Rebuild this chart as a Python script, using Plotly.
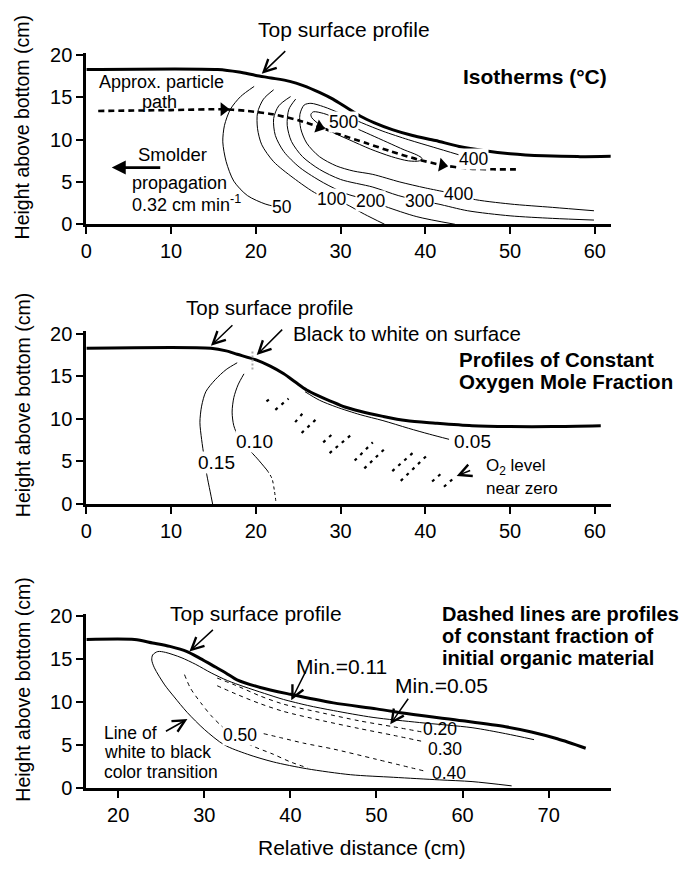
import plotly.graph_objects as go

FONT = "Liberation Sans, Arial, Helvetica, sans-serif"

# ---------------- Panel 1: isotherms ----------------
surf1_x = [0, 15.5, 18, 20, 21.8, 24, 25.6, 27.5, 29.1, 30.7, 32.3, 34, 36.1, 38.5, 41.2, 44, 47, 50, 54, 58, 62]
surf1_y = [18.3, 18.3, 18.0, 17.6, 17.3, 16.9, 16.4, 15.6, 14.8, 13.8, 12.8, 12.0, 11.2, 10.5, 9.9, 9.2, 8.7, 8.35, 8.1, 8.0, 8.05]

path_x = [1.4, 10, 16, 19, 22, 25, 27.5, 30, 33, 36, 39, 42, 45, 48, 51]
path_y = [13.4, 13.5, 13.6, 13.4, 13.0, 12.3, 11.5, 10.6, 9.6, 8.6, 7.7, 7.0, 6.6, 6.5, 6.5]
path_arrow_x = [16.2, 27.5, 42.0]
path_arrow_y = [13.6, 11.5, 7.0]

iso50_x = [19.8, 18.2, 17.0, 16.3, 16.1, 16.5, 17.4, 19.0, 21.1, 22.3]
iso50_y = [16.3, 15.1, 13.6, 11.7, 9.75, 7.4, 5.1, 3.4, 2.4, 2.1]
iso100_x = [22.1, 20.9, 20.2, 20.2, 20.7, 22.1, 24.4, 27.2, 29.0, 30.6, 32.8, 35.2]
iso100_y = [15.9, 14.8, 13.2, 11.3, 9.4, 7.4, 5.5, 3.6, 3.0, 2.4, 1.2, 0.0]
iso200_x = [24.1, 22.7, 22.1, 22.3, 23.3, 25.2, 28.0, 30.7, 33.5, 35.3, 39.0, 43.5]
iso200_y = [15.1, 14.0, 12.5, 10.5, 8.6, 6.7, 4.9, 3.6, 2.8, 2.1, 0.9, 0.0]
iso300_x = [24.7, 23.9, 23.7, 24.2, 25.5, 27.5, 30.0, 33.8, 36.8, 39.3, 41.5, 45, 50, 55, 59.9]
iso300_y = [14.8, 13.6, 11.7, 9.8, 8.0, 6.5, 5.3, 4.4, 3.4, 2.8, 2.4, 1.6, 1.0, 0.7, 0.5]
iso400_x = [44.0, 41.0, 38.0, 35.0, 32.5, 30.0, 28.0, 26.5, 25.7, 25.2, 25.3, 26.0, 27.5, 29.5, 31.5, 33.8, 37, 40, 42.5, 43.9, 45.5, 50, 55, 59.9]
iso400_y = [8.2, 9.1, 10.0, 11.0, 12.0, 13.1, 13.9, 14.3, 14.1, 13.0, 11.3, 9.6, 8.0, 6.9, 6.3, 5.9, 5.0, 4.3, 3.8, 3.6, 3.0, 2.4, 2.0, 1.6]
iso500_x = [26.8, 28.0, 29.3, 31.5, 33.5, 35.5, 37.5, 39.0, 39.6, 39.3, 38.0, 36.0, 33.5, 31.0, 29.0, 27.5, 26.6, 26.5, 26.8]
iso500_y = [13.3, 13.1, 12.6, 11.5, 10.6, 9.7, 8.8, 8.2, 7.8, 7.5, 7.5, 8.0, 8.9, 10.0, 10.9, 11.8, 12.6, 13.0, 13.3]

iso_labels = ["50", "100", "200", "300", "400", "400", "500"]
iso_label_x = [23.1, 28.9, 33.5, 39.3, 43.9, 45.7, 30.4]
iso_label_y = [2.1, 3.0, 2.8, 2.8, 3.6, 7.7, 12.1]

# ---------------- Panel 2: oxygen ----------------
surf2_x = [0, 14.7, 16.5, 17.8, 20.1, 21.7, 23.3, 24.7, 26.0, 27.4, 28.8, 30.5, 32.3, 35, 37.7, 41.2, 45.5, 50, 55, 60.7]
surf2_y = [18.3, 18.3, 18.0, 17.6, 16.9, 16.2, 15.3, 14.3, 13.4, 12.7, 12.1, 11.4, 10.9, 10.3, 9.8, 9.5, 9.2, 9.1, 9.1, 9.2]

o15_x = [17.8, 16.5, 15.2, 14.1, 13.6, 13.4, 13.6, 13.9, 14.2, 14.6, 14.9]
o15_y = [16.6, 15.8, 14.6, 13.2, 11.5, 9.6, 7.6, 5.5, 3.5, 1.5, 0.0]
o10_x = [18.6, 17.9, 17.4, 17.2, 17.4, 18.0, 19.0, 20.2, 21.3]
o10_y = [15.3, 14.0, 12.5, 10.8, 9.2, 7.8, 6.6, 5.3, 4.0]
o10_dash_x = [21.3, 21.9, 22.2, 22.4]
o10_dash_y = [4.0, 3.0, 1.5, 0.0]
o05_x = [25.8, 27.5, 29.5, 32.3, 35, 38, 40.5, 42.8]
o05_y = [13.2, 12.2, 11.4, 10.5, 9.8, 8.9, 8.2, 7.6]

o2_labels = ["0.15", "0.10", "0.05"]
o2_label_x = [15.3, 19.9, 45.6]
o2_label_y = [4.9, 7.4, 7.4]

o2_zero_x0 = [21.25, 22.3, 24.64, 25.4, 27.95, 28.7, 31.66, 32.8, 36.1, 37.1, 40.8, 42.2]
o2_zero_y0 = [12.07, 11.07, 9.62, 8.35, 7.24, 5.98, 5.1, 4.18, 3.87, 2.72, 2.64, 2.03]
o2_zero_x1 = [21.7, 23.86, 25.8, 27.45, 29.3, 31.5, 33.8, 35.36, 38.5, 40.2, 42.2, 43.35]
o2_zero_y1 = [12.38, 12.38, 10.96, 10.27, 8.47, 8.35, 7.24, 6.63, 5.98, 5.71, 3.87, 3.03]

gray_mark_x = [19.6, 19.6]
gray_mark_y = [15.8, 18.1]

# ---------------- Panel 3: organic material ----------------
surf3_x = [16.3, 21.9, 24, 26, 28, 29.5, 31.1, 32.5, 33.8, 36.5, 40, 45, 50, 54.5, 60, 65, 68, 71, 74.3]
surf3_y = [17.3, 17.3, 16.9, 16.5, 15.9, 15.1, 14.2, 13.4, 12.6, 11.7, 10.9, 9.9, 9.2, 8.5, 7.8, 7.1, 6.5, 5.7, 4.6]

wb_x = [68.3, 65, 61.1, 55, 49.6, 45, 42, 39.2, 37, 34.6, 32.7, 30.8, 29, 27.3, 25.5, 24.6, 24.0, 23.9, 24.2, 25.4, 26.5, 28.0, 30, 32.3, 35, 38, 41.9, 47, 52, 57.3, 61.1, 65.7]
wb_y = [5.6, 6.3, 7.0, 7.6, 8.2, 9.0, 9.6, 10.3, 11.0, 11.8, 12.5, 13.4, 14.4, 15.2, 15.8, 15.9, 15.5, 14.9, 14.0, 12.0, 10.6, 8.8, 6.8, 5.0, 3.9, 3.0, 2.2, 1.5, 1.2, 0.9, 0.7, 0.2]

d20_x = [31.5, 34, 36.5, 39.2, 43.8, 48, 52, 55.3]
d20_y = [12.8, 11.8, 10.7, 9.75, 8.7, 7.8, 7.1, 6.5]
d30_x = [31.5, 34, 36.5, 39.2, 43.8, 48, 52, 55.3]
d30_y = [11.9, 10.8, 9.8, 8.9, 7.8, 6.9, 6.1, 5.4]
d50_x = [27.7, 28.4, 29.6, 30.8, 32.0, 33.5, 35.5, 38, 40, 42]
d50_y = [13.2, 11.6, 9.9, 8.4, 7.2, 6.0, 4.9, 3.9, 3.0, 2.3]
d40_x = [36.9, 39, 41.5, 45, 50, 55.7]
d40_y = [6.3, 5.8, 5.2, 4.5, 3.3, 1.9]

org_labels = ["0.50", "0.20", "0.30", "0.40"]
org_label_x = [34.2, 57.4, 57.9, 58.4]
org_label_y = [6.2, 6.8, 4.5, 1.7]

x12_ticks = [0, 10, 20, 30, 40, 50, 60]
x3_ticks = [20, 30, 40, 50, 60, 70]
y_ticks = [0, 5, 10, 15, 20]

# ---------------- figure ----------------
# The page body keeps the browser's 8 px margin, so the figure is sized to fit
# the 693x876 window exactly; all reference pixel positions are shifted by 8 px.
FW, FH, OFF = 677, 860, 8


def px(xp):
    return (xp - OFF) / FW


def py(yp):
    return 1 - (yp - OFF) / FH


fig = go.Figure()


def add_line(x, y, xa, ya, width=1.0, dash="solid", color="black", smooth=True):
    fig.add_trace(go.Scatter(
        x=x, y=y, mode="lines", xaxis=xa, yaxis=ya,
        line=dict(color=color, width=width, dash=dash,
                  shape="spline" if smooth else "linear", smoothing=0.8),
        showlegend=False, hoverinfo="skip"))


# panel 1
add_line(surf1_x, surf1_y, "x", "y", width=3)
for xs, ys in [(iso50_x, iso50_y), (iso100_x, iso100_y), (iso200_x, iso200_y),
               (iso300_x, iso300_y), (iso400_x, iso400_y), (iso500_x, iso500_y)]:
    add_line(xs, ys, "x", "y", width=1)
add_line(path_x, path_y, "x", "y", width=2.6, dash="6px,4px")
fig.add_trace(go.Scatter(
    x=path_arrow_x, y=path_arrow_y, mode="markers", xaxis="x", yaxis="y",
    marker=dict(symbol="triangle-right", size=12, color="black", angle=[0, 19, 10]),
    showlegend=False, hoverinfo="skip"))

# panel 2
add_line(surf2_x, surf2_y, "x2", "y2", width=3)
add_line(o15_x, o15_y, "x2", "y2", width=1)
add_line(o10_x, o10_y, "x2", "y2", width=1)
add_line(o10_dash_x, o10_dash_y, "x2", "y2", width=1, dash="3px,3px")
add_line(o05_x, o05_y, "x2", "y2", width=1)
seg_x, seg_y = [], []
for a, b, c, d in zip(o2_zero_x0, o2_zero_y0, o2_zero_x1, o2_zero_y1):
    seg_x += [a, c, None]
    seg_y += [b, d, None]
add_line(seg_x, seg_y, "x2", "y2", width=2.2, dash="3px,5px", smooth=False)
add_line(gray_mark_x, gray_mark_y, "x2", "y2", width=2, dash="2px,2px", color="#aaaaaa", smooth=False)

# panel 3
add_line(surf3_x, surf3_y, "x3", "y3", width=3)
add_line(wb_x, wb_y, "x3", "y3", width=1)
for xs, ys in [(d20_x, d20_y), (d30_x, d30_y), (d50_x, d50_y), (d40_x, d40_y)]:
    add_line(xs, ys, "x3", "y3", width=1, dash="4px,4px")

XDOM = [px(81), px(610)]
axis_common = dict(showgrid=False, zeroline=False, showline=True, linewidth=3, linecolor="black",
                   ticks="outside", ticklen=7, tickwidth=1.5, tickcolor="black",
                   tickfont=dict(family=FONT, size=20, color="black"))

fig.update_layout(
    width=FW, height=FH, autosize=False,
    margin=dict(l=0, r=0, t=0, b=0),
    paper_bgcolor="white", plot_bgcolor="white",
    font=dict(family=FONT, size=20, color="black"),
    xaxis=dict(domain=XDOM, range=[0, 61.87], anchor="y", tickvals=x12_ticks, **axis_common),
    yaxis=dict(domain=[py(221), py(45.4)], range=[0, 20.3], anchor="x", tickvals=y_ticks, **axis_common),
    xaxis2=dict(domain=XDOM, range=[0, 61.87], anchor="y2", tickvals=x12_ticks, **axis_common),
    yaxis2=dict(domain=[py(507), py(330.4)], range=[0, 20.3], anchor="x2", tickvals=y_ticks, **axis_common),
    xaxis3=dict(domain=XDOM, range=[16.3, 77.2], anchor="y3", tickvals=x3_ticks, **axis_common),
    yaxis3=dict(domain=[py(797), py(619.4)], range=[0, 20.3], anchor="x3", tickvals=y_ticks, **axis_common),
)

ann = []


def text(t, x, y, xr, yr, size=18, xanchor="center", bg=None):
    d = dict(text=t, x=x, y=y, xref=xr, yref=yr, showarrow=False, xanchor=xanchor, yanchor="middle",
             font=dict(family=FONT, size=size, color="black"))
    if bg:
        d.update(bgcolor=bg, borderpad=0)
    ann.append(d)


def arrow(x, y, ax, ay, xr, yr, head=5, width=1.5, size=1.6):
    ann.append(dict(text="", x=x, y=y, xref=xr, yref=yr, ax=ax, ay=ay, showarrow=True,
                    arrowhead=head, arrowwidth=width, arrowsize=size, arrowcolor="black", standoff=0))


# axis titles
for yc in [122, 406, 697]:
    ann.append(dict(text="Height above bottom (cm)", x=px(17), y=py(yc), xref="paper", yref="paper",
                    showarrow=False, textangle=-90, xanchor="center", yanchor="middle",
                    font=dict(family=FONT, size=19.5, color="black")))
ann.append(dict(text="Relative distance (cm)", x=px(359), y=py(858), xref="paper", yref="paper",
                showarrow=False, xanchor="center", yanchor="middle", font=dict(family=FONT, size=21, color="black")))

# panel 1 texts
text("Top surface profile", px(341), py(22), "paper", "paper", size=21)
arrow(20.7, 17.8, 25, -24, "x", "y")
text("<b>Isotherms (°C)</b>", 52.9, 17.5, "x", "y", size=21)
text("Approx. particle", 8.9, 16.8, "x", "y", size=18)
text("path", 8.65, 14.4, "x", "y", size=18)
text("Smolder", 10.2, 8.3, "x", "y", size=18.5)
arrow(3.0, 6.7, 50, 0, "x", "y", head=2, width=2.8, size=1.0)
text("propagation", 5.1, 4.9, "x", "y", size=18, xanchor="left")
text("0.32 cm min<sup>-1</sup>", 5.1, 2.4, "x", "y", size=18, xanchor="left")
for t, lx, ly in zip(iso_labels, iso_label_x, iso_label_y):
    text(t, lx, ly, "x", "y", size=17.5, bg="white")

# panel 2 texts
text("Top surface profile", px(266), py(306), "paper", "paper", size=20.5)
arrow(14.7, 18.6, 23, -22, "x2", "y2")
text("Black to white on surface", 24.2, 20.0, "x2", "y2", size=20.5, xanchor="left")
arrow(20.1, 17.5, 27, -27, "x2", "y2")
text("<b>Profiles of Constant</b>", 43.7, 17.0, "x2", "y2", size=20.5, xanchor="left")
text("<b>Oxygen Mole Fraction</b>", 43.7, 14.4, "x2", "y2", size=20.5, xanchor="left")
for t, lx, ly in zip(o2_labels, o2_label_x, o2_label_y):
    text(t, lx, ly, "x2", "y2", size=19, bg="white")
text("O<sub>2</sub> level", 46.9, 4.3, "x2", "y2", size=17, xanchor="left")
text("near zero", 46.9, 1.8, "x2", "y2", size=17, xanchor="left")
arrow(43.7, 3.3, 15, -6, "x2", "y2")

# panel 3 texts
text("Top surface profile", 36.0, 20.3, "x3", "y3", size=21)
arrow(28.27, 15.9, 25, -23, "x3", "y3")
text("Min.=0.11", 45.9, 14.2, "x3", "y3", size=21)
arrow(40.1, 10.2, 15, -30, "x3", "y3")
text("Min.=0.05", 57.5, 11.9, "x3", "y3", size=21)
arrow(51.6, 7.4, 19, -27, "x3", "y3")
text("Line of", 18.14, 6.4, "x3", "y3", size=17.5, xanchor="left")
text("white to black", 18.14, 4.1, "x3", "y3", size=17.5, xanchor="left")
text("color transition", 18.14, 1.8, "x3", "y3", size=17.5, xanchor="left")
arrow(28.04, 8.0, -23, 13, "x3", "y3")
text("<b>Dashed lines are profiles</b>", 57.4, 20.3, "x3", "y3", size=20, xanchor="left")
text("<b>of constant fraction of</b>", 57.4, 17.75, "x3", "y3", size=20, xanchor="left")
text("<b>initial organic material</b>", 57.4, 15.2, "x3", "y3", size=20, xanchor="left")
for t, lx, ly in zip(org_labels, org_label_x, org_label_y):
    text(t, lx, ly, "x3", "y3", size=17.5, bg="white" if t == "0.50" else None)

fig.update_layout(annotations=ann)
fig.write_html("out.html", config={"displayModeBar": False})
